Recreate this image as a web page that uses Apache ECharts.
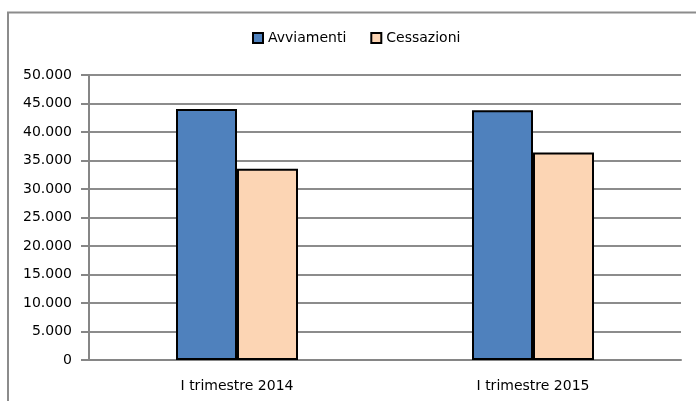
<!DOCTYPE html>
<html><head><meta charset="utf-8">
<script src="https://cdn.jsdelivr.net/npm/echarts@6/dist/echarts.min.js"></script>
<style>html,body{margin:0;padding:0;background:#fff}#c{width:696px;height:401px}</style>
</head><body><div id="c"></div>
<script>
const categories = ['I trimestre 2014', 'I trimestre 2015'];
const avviamenti = [44050, 43800];
const cessazioni = [33550, 36400];
const seriesNames = ['Avviamenti', 'Cessazioni'];

const chart = echarts.init(document.getElementById('c'), null, {renderer: 'canvas'});
const font = '"DejaVu Sans", sans-serif';
chart.setOption({
  animation: false,
  backgroundColor: '#fff',
  graphic: [{type: 'rect', shape: {x: 8, y: 12.5, width: 720, height: 420}, style: {fill: 'none', stroke: '#8c8c8c', lineWidth: 2}}],
  legend: {
    top: 26, left: 247, itemWidth: 10, itemHeight: 10, itemGap: 24, icon: 'rect',
    textStyle: {fontFamily: font, fontSize: 14, color: '#000'},
    data: seriesNames
  },
  grid: {left: 89, right: 15, top: 75, bottom: 41},
  xAxis: {
    type: 'category', data: categories,
    axisLine: {lineStyle: {color: '#868686', width: 2}},
    axisTick: {show: false},
    axisLabel: {fontFamily: font, fontSize: 14, color: '#000', margin: 19}
  },
  yAxis: {
    type: 'value', min: 0, max: 50000, interval: 5000,
    axisLine: {show: true, lineStyle: {color: '#868686', width: 2}},
    axisTick: {show: true, length: 8, lineStyle: {color: '#868686', width: 2}},
    splitLine: {lineStyle: {color: '#8c8c8c', width: 2}},
    axisLabel: {fontFamily: font, fontSize: 14, color: '#000', margin: 17,
      formatter: v => v === 0 ? '0' : v.toLocaleString('it-IT').replace(/,/g, '.')}
  },
  series: [
    {name: seriesNames[0], type: 'bar', data: avviamenti, barWidth: 61, barGap: '0%',
      itemStyle: {color: '#4f81bd', borderColor: '#000', borderWidth: 2}},
    {name: seriesNames[1], type: 'bar', data: cessazioni, barWidth: 61,
      itemStyle: {color: '#fcd5b4', borderColor: '#000', borderWidth: 2}}
  ]
});
</script></body></html>
